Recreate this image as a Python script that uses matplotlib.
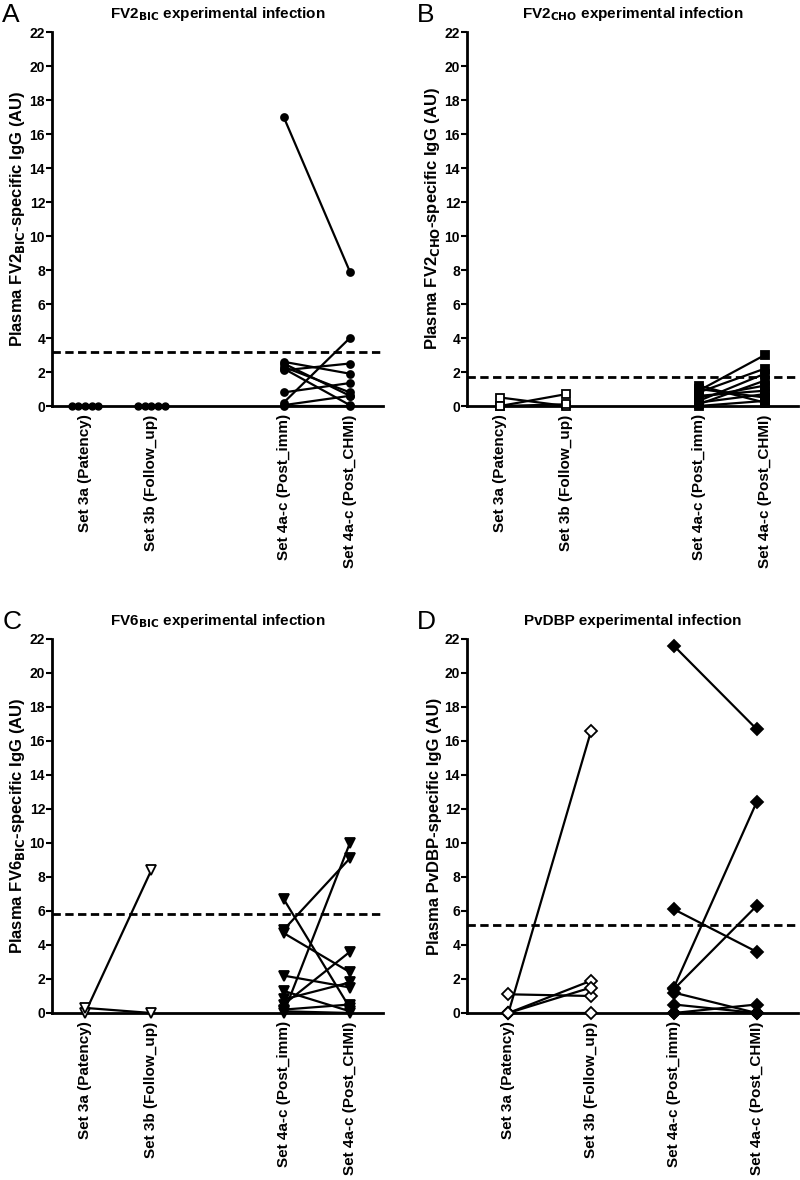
import matplotlib.pyplot as plt
import numpy as np

plt.rcParams['font.family'] = ['Liberation Sans Narrow', 'Liberation Sans', 'DejaVu Sans']

categories = ['Set 3a (Patency)', 'Set 3b (Follow_up)',
              'Set 4a-c (Post_imm)', 'Set 4a-c (Post_CHMI)']

# panel A - FV2 BIC
a_3a = [0, 0, 0, 0, 0]
a_3b = [0, 0, 0, 0, 0]
a_imm = [17.0, 2.6, 2.5, 2.3, 2.2, 2.1, 0.8, 0.2, 0.05, 0.0]
a_chmi = [7.9, 1.9, 0.6, 0.8, 0.05, 2.5, 1.35, 4.0, 0.6, 0.0]
a_cut = 3.2

# panel B - FV2 CHO
b_3a = [0.5, 0.0, 0.0]
b_3b = [0.0, 0.7, 0.1]
b_imm = [0.9, 0.8, 0.3, 0.1, 1.2, 1.0, 0.6, 0.5, 0.2, 0.0]
b_chmi = [3.0, 2.2, 1.9, 1.5, 0.2, 0.5, 0.9, 1.2, 0.7, 0.3]
b_cut = 1.7

# panel C - FV6 BIC
c_3a = [0.0, 0.3]
c_3b = [8.4, 0.0]
c_imm = [6.7, 4.9, 4.7, 0.0, 2.2, 0.5, 1.3, 0.8, 0.2, 0.1]
c_chmi = [0.3, 9.1, 2.4, 10.0, 1.5, 3.6, 0.1, 1.8, 0.5, 0.0]
c_cut = 5.8

# panel D - PvDBP
d_3a = [0.0, 1.1, 0.0, 0.0, 0.0]
d_3b = [16.6, 1.0, 1.9, 1.5, 0.0]
d_imm = [21.6, 6.1, 1.5, 1.4, 1.2, 0.5, 0.0, 0.0]
d_chmi = [16.7, 3.6, 12.4, 6.3, 0.0, 0.0, 0.5, 0.0]
d_cut = 5.2

fig = plt.figure(figsize=(8, 11.8), dpi=100)


def make_axes(left_px, top_px):
    W, H = 800, 1180
    return fig.add_axes([left_px / W, 1 - (top_px + 374) / H, 331 / W, 374 / H])


def style(ax, pos, xlim, letter, title, ylabel, cut):
    ax.set_xlim(*xlim)
    ax.set_ylim(0, 22)
    ax.set_yticks(range(0, 23, 2))
    ax.set_xticks(pos)
    ax.set_xticklabels(categories, rotation=90, fontsize=11, fontweight='bold')
    ax.tick_params(axis='x', length=0, pad=6)
    ax.tick_params(axis='y', length=4, width=1.5, labelsize=10, pad=1)
    for lab in ax.get_yticklabels():
        lab.set_fontweight('bold')
    for s in ['top', 'right']:
        ax.spines[s].set_visible(False)
    ax.spines['left'].set_linewidth(2)
    ax.spines['bottom'].set_linewidth(2)
    ax.axhline(cut, color='black', lw=2, ls=(0, (3, 1.6)), zorder=1)
    ax.set_title(title, fontsize=11, fontweight='bold', pad=10,
                 family=['Liberation Sans', 'DejaVu Sans'])
    ax.set_ylabel(ylabel, fontsize=12, fontweight='bold', labelpad=2,
                  family=['Liberation Sans', 'DejaVu Sans'])
    ax.text(-0.15, 1.045, letter, transform=ax.transAxes, fontsize=19,
            ha='left', va='center', family=['Liberation Sans', 'DejaVu Sans'])


def pairs(ax, x0, x1, v0, v1, marker, filled, ms):
    fc = 'black' if filled else 'white'
    for y0, y1 in zip(v0, v1):
        ax.plot([x0, x1], [y0, y1], color='black', lw=1.6, marker=marker,
                ms=ms, mfc=fc, mec='black', mew=1.3, clip_on=False, zorder=3)


# A
ax = make_axes(52, 32)
pos = [0, 1, 3, 4]
style(ax, pos, (-0.5, 4.5), 'A', r'FV2$_{\mathbf{BIC}}$ experimental infection',
      r'Plasma FV2$_{\mathbf{BIC}}$-specific IgG (AU)', a_cut)
for xc, vals in [(pos[0], a_3a), (pos[1], a_3b)]:
    xs = xc + np.linspace(-0.2, 0.2, len(vals))
    ax.plot(xs, vals, 'o', color='black', ms=5, clip_on=False, zorder=3)
pairs(ax, pos[2], pos[3], a_imm, a_chmi, 'o', True, 5)

# B
ax = make_axes(467, 32)
style(ax, pos, (-0.5, 4.5), 'B', r'FV2$_{\mathbf{CHO}}$ experimental infection',
      r'Plasma FV2$_{\mathbf{CHO}}$-specific IgG (AU)', b_cut)
pairs(ax, pos[0], pos[1], b_3a, b_3b, 's', False, 6)
pairs(ax, pos[2], pos[3], b_imm, b_chmi, 's', True, 6)

# C
ax = make_axes(52, 639)
style(ax, pos, (-0.5, 4.5), 'C', r'FV6$_{\mathbf{BIC}}$ experimental infection',
      r'Plasma FV6$_{\mathbf{BIC}}$-specific IgG (AU)', c_cut)
pairs(ax, pos[0], pos[1], c_3a, c_3b, 'v', False, 7)
pairs(ax, pos[2], pos[3], c_imm, c_chmi, 'v', True, 7)

# D
ax = make_axes(467, 639)
pos_d = [0, 1, 2, 3]
style(ax, pos_d, (-0.5, 3.5), 'D', 'PvDBP experimental infection',
      'Plasma PvDBP-specific IgG (AU)', d_cut)
pairs(ax, pos_d[0], pos_d[1], d_3a, d_3b, 'D', False, 6)
pairs(ax, pos_d[2], pos_d[3], d_imm, d_chmi, 'D', True, 6)

fig.savefig('out.png', dpi=100)
